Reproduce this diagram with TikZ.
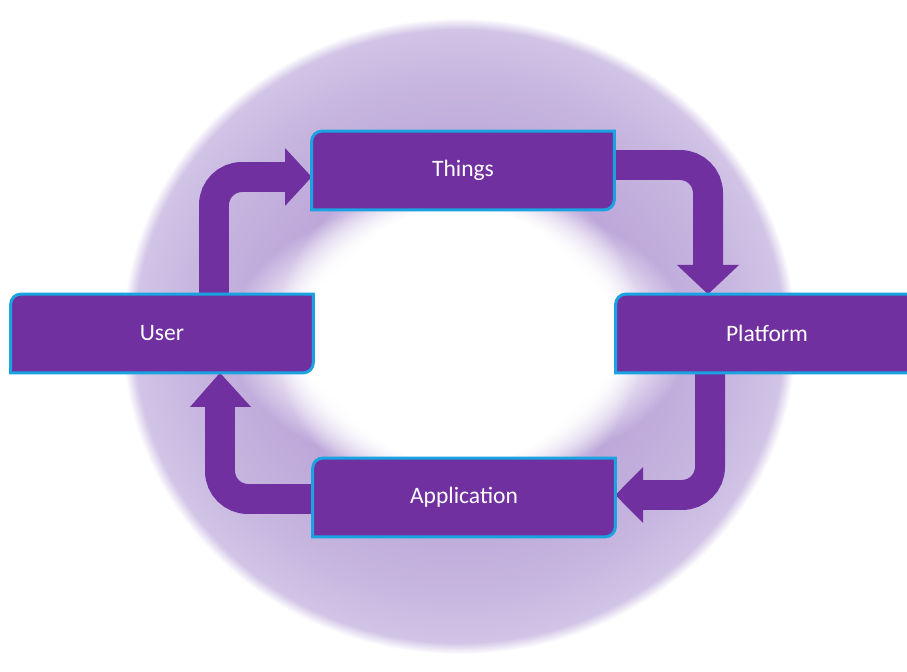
\documentclass[tikz,border=0pt]{standalone}
\usepackage{fontspec}
\setmainfont{Carlito}
\usetikzlibrary{fadings,backgrounds}

\definecolor{boxfill}{HTML}{7030A0}
\definecolor{boxedge}{HTML}{1AA3E0}
\definecolor{ringdark}{HTML}{BDA7DA}
\definecolor{ringmid}{HTML}{C7B6DF}
\definecolor{ringlight}{HTML}{D1C4E6}

% soft purple halo behind the cycle
\pgfdeclareradialshading{ringglow}{\pgfpointorigin}{%
  color(0bp)=(white); color(10bp)=(white); color(13.5bp)=(ringdark);
  color(20bp)=(ringmid); color(23.8bp)=(ringlight); color(24.7bp)=(white);
  color(50bp)=(white)}
% opaque core that fades out towards its rim
\pgfdeclareradialshading{softdiscmask}{\pgfpointorigin}{%
  color(0bp)=(white); color(17.5bp)=(white); color(25bp)=(black); color(50bp)=(black)}
\pgfdeclarefading{softdisc}{\pgfuseshading{softdiscmask}}

\tikzset{
  stagebox/.style={minimum width=6.04cm, minimum height=1.56cm, inner sep=0pt,
    text=white, font=\fontsize{13.4}{16}\selectfont},
  boxframe/.style={fill=boxfill, draw=boxedge, line width=0.06cm},
  shaft/.style={draw=boxfill, line width=0.6cm, rounded corners=0.56cm},
  arrowhead/.style={fill=boxfill},
}

% frame with rounded top-left and bottom-right corners
\newcommand{\diagframe}[1]{%
  \path[boxframe] ([yshift=-0.2cm]#1.north west)
    arc[start angle=180, end angle=90, radius=0.2cm] -- (#1.north east)
    -- ([yshift=0.2cm]#1.south east)
    arc[start angle=0, end angle=-90, radius=0.2cm] -- (#1.south west) -- cycle;}

\begin{document}
\begin{tikzpicture}[x=0.02cm, y=-0.02cm]
  \clip (0,0) rectangle (907,672);

  \node[stagebox] (things)      at (463,170.5) {Things};
  \node[stagebox] (user)        at (162,333.5) {User};
  \node[stagebox] (platform)    at (767,333.5) {Platform};
  \node[stagebox] (application) at (464,497.5) {Application};

  \begin{scope}[on background layer]
    \fill[white] (0,0) rectangle (907,672);
    \shade[shading=ringglow] (459,336) ellipse [x radius=6.82cm, y radius=6.44cm];
    \fill[white, path fading=softdisc] (459,336) ellipse [x radius=4.6cm, y radius=2.8cm];

    % User -> Things
    \draw[shaft] (user.north -| 214,0) |- (285,177);
    \fill[arrowhead] (285,148) -- (285,206) -- (things.west |- 0,177) -- cycle;
    % Things -> Platform
    \draw[shaft] (things.east |- 0,165) -| (708,265);
    \fill[arrowhead] (677,265) -- (739,265) -- (platform.north -| 708,0) -- cycle;
    % Platform -> Application
    \draw[shaft] (platform.south -| 710,0) |- (643,495);
    \fill[arrowhead] (643,467) -- (643,523) -- (application.east |- 0,495) -- cycle;
    % Application -> User
    \draw[shaft] (application.west |- 0,499) -| (220,407);
    \fill[arrowhead] (190,407) -- (251,407) -- (user.south -| 220,0) -- cycle;

    \diagframe{things}
    \diagframe{user}
    \diagframe{platform}
    \diagframe{application}
  \end{scope}
\end{tikzpicture}
\end{document}
